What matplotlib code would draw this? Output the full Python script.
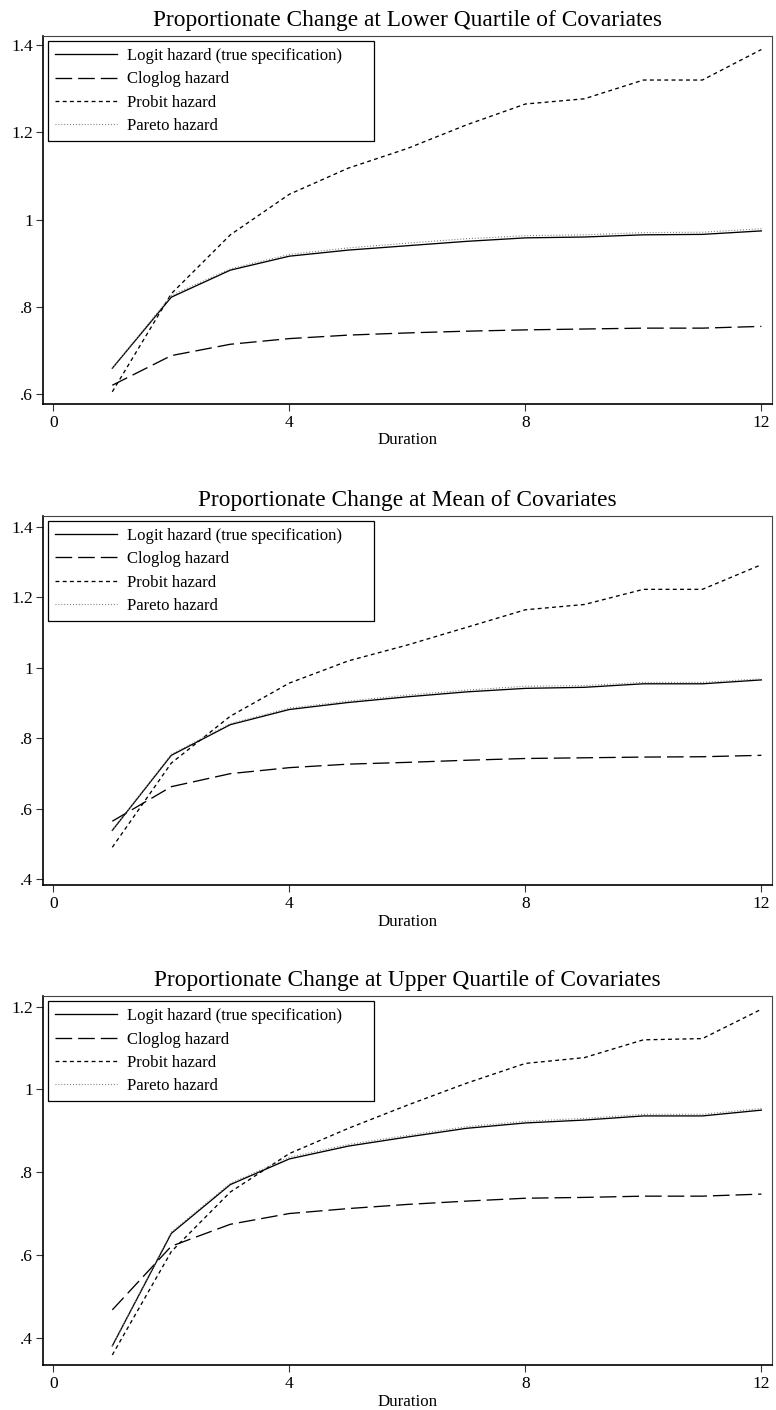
import matplotlib
matplotlib.use('Agg')
import matplotlib.pyplot as plt

plt.rcParams['font.family'] = ['Liberation Serif', 'DejaVu Serif']
plt.rcParams['lines.scale_dashes'] = False

duration = [1, 2, 3, 4, 5, 6, 7, 8, 9, 10, 11, 12]
series_names = ['Logit hazard (true specification)', 'Cloglog hazard',
                'Probit hazard', 'Pareto hazard']
titles = ['Proportionate Change at Lower Quartile of Covariates',
          'Proportionate Change at Mean of Covariates',
          'Proportionate Change at Upper Quartile of Covariates']

# lower quartile
logit_lq = [0.659, 0.822, 0.884, 0.916, 0.930, 0.940, 0.950, 0.958, 0.960, 0.965, 0.966, 0.974]
cloglog_lq = [0.620, 0.688, 0.714, 0.727, 0.735, 0.740, 0.744, 0.747, 0.749, 0.751, 0.751, 0.755]
probit_lq = [0.605, 0.830, 0.965, 1.058, 1.118, 1.163, 1.217, 1.265, 1.277, 1.320, 1.320, 1.390]
pareto_lq = [0.659, 0.826, 0.887, 0.920, 0.935, 0.946, 0.956, 0.963, 0.965, 0.970, 0.971, 0.979]

# mean
logit_mn = [0.539, 0.752, 0.839, 0.882, 0.902, 0.918, 0.932, 0.942, 0.945, 0.955, 0.955, 0.966]
cloglog_mn = [0.565, 0.663, 0.700, 0.717, 0.727, 0.732, 0.738, 0.743, 0.745, 0.747, 0.748, 0.752]
probit_mn = [0.491, 0.730, 0.863, 0.957, 1.020, 1.065, 1.115, 1.165, 1.180, 1.223, 1.223, 1.293]
pareto_mn = [0.539, 0.755, 0.842, 0.886, 0.906, 0.923, 0.937, 0.948, 0.950, 0.959, 0.959, 0.969]

# upper quartile
logit_uq = [0.380, 0.652, 0.770, 0.832, 0.863, 0.885, 0.906, 0.919, 0.926, 0.936, 0.936, 0.950]
cloglog_uq = [0.467, 0.621, 0.674, 0.700, 0.712, 0.722, 0.730, 0.737, 0.739, 0.742, 0.742, 0.747]
probit_uq = [0.358, 0.608, 0.752, 0.845, 0.906, 0.962, 1.015, 1.063, 1.077, 1.120, 1.123, 1.194]
pareto_uq = [0.380, 0.655, 0.773, 0.836, 0.867, 0.889, 0.910, 0.923, 0.930, 0.940, 0.940, 0.954]

panels = [
    (logit_lq, cloglog_lq, probit_lq, pareto_lq),
    (logit_mn, cloglog_mn, probit_mn, pareto_mn),
    (logit_uq, cloglog_uq, probit_uq, pareto_uq),
]
yticks = [[0.6, 0.8, 1.0, 1.2, 1.4], [0.4, 0.6, 0.8, 1.0, 1.2, 1.4], [0.4, 0.6, 0.8, 1.0, 1.2]]
ylims = [(0.577, 1.421), (0.384, 1.432), (0.333, 1.226)]
xticks = [0, 4, 8, 12]

styles = [
    dict(color='black', linestyle='-', linewidth=0.95),
    dict(color='black', linestyle=(0, (12, 4.3)), linewidth=0.95),
    dict(color='black', linestyle=(0, (2.8, 2.4)), linewidth=0.95),
    dict(color='#777777', linestyle=(0, (0.7, 1.4)), linewidth=0.8),
]


def fmt(v):
    s = ('%g' % round(v, 2))
    return s[1:] if s.startswith('0.') else s


W, H = 776, 1410
fig = plt.figure(figsize=(W / 100, H / 100), dpi=100)
boxes = [(36, 404), (515.7, 885), (996, 1365.3)]

for i, (top, bot) in enumerate(boxes):
    ax = fig.add_axes([42.5 / W, 1 - bot / H, (772 - 42.5) / W, (bot - top) / H])
    for vals, name, st in zip(panels[i], series_names, styles):
        ax.plot(duration, vals, label=name, **st)
    ax.set_xlim(-0.183, 12.18)
    ax.set_ylim(*ylims[i])
    ax.set_xticks(xticks)
    ax.set_xticklabels([str(t) for t in xticks])
    ax.set_yticks(yticks[i])
    ax.set_yticklabels([fmt(t) for t in yticks[i]])
    ax.tick_params(direction='out', length=5, width=0.8, labelsize=12.5, pad=2,
                   color='#333333')
    ax.tick_params(axis='x', pad=3)
    for side in ['left', 'bottom']:
        ax.spines[side].set_linewidth(1.2)
    for side in ['top', 'right']:
        ax.spines[side].set_linewidth(0.8)
        ax.spines[side].set_color('#444444')
    ax.set_xlabel('Duration', fontsize=12.2, labelpad=1)
    ax.set_title(titles[i], fontsize=16.8, pad=7)
    leg = ax.legend(loc='upper left', bbox_to_anchor=(0.0075, 0.986, 0.447, 0.0),
                    mode='expand', fontsize=12, frameon=True, fancybox=False,
                    edgecolor='black', framealpha=1, borderpad=0.42,
                    handlelength=3.7, handletextpad=0.64, labelspacing=0.44,
                    borderaxespad=0)
    leg.get_frame().set_linewidth(0.9)

fig.savefig('out.png', dpi=100)
